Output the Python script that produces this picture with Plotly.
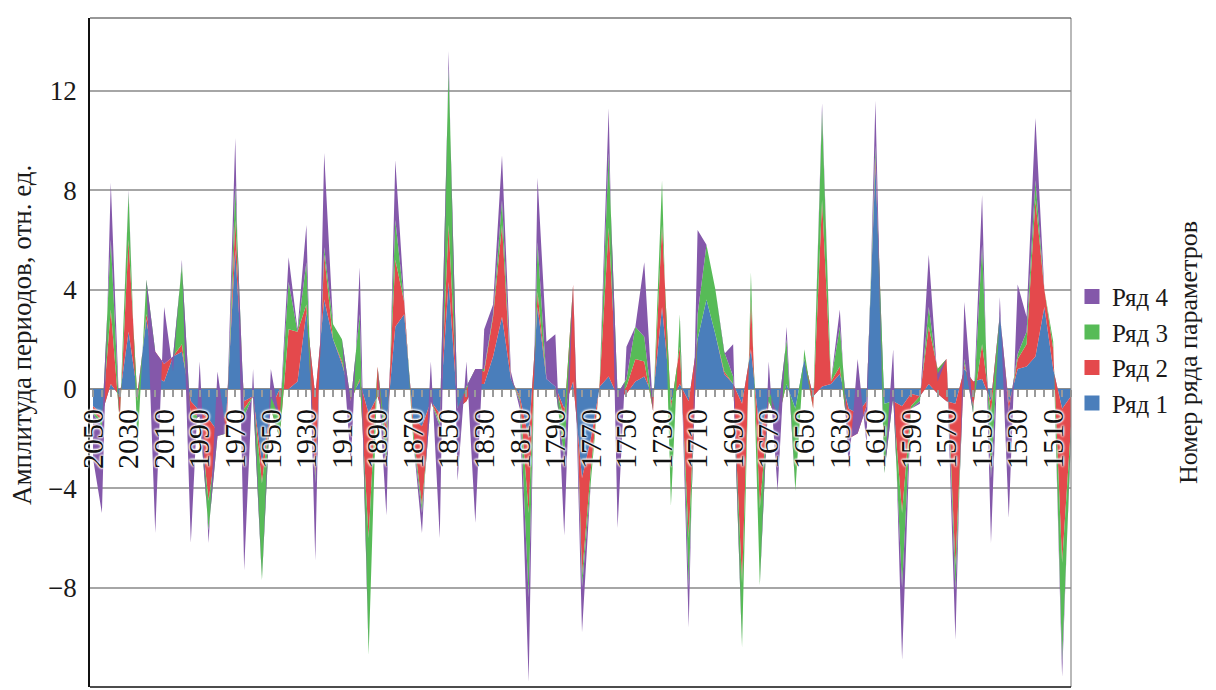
import plotly.graph_objects as go

years = list(range(2050, 1499, -5))

# Ряд 1 (blue)
s1 = [-0.7, -1.0, 0.2, -0.3, 2.3, -0.2, 2.8, 0.5, 0.3, 1.3,
      1.5, -0.5, -0.9, -1.2, -1.7, -1.0, 5.6, -0.5, -0.3, -3.0,
      -0.8, 0, 0, 0.3, 3.1, -0.3, 3.6, 2.0, 1.0, -0.3,
      0.3, -1.0, -0.3, -1.5, 2.5, 3.0, -1.2, -1.5, -0.5, -1.0,
      4.3, -0.8, -0.5, 0.2, 0.2, 1.3, 2.9, 0.4, -0.3, -2.0,
      3.3, 0.4, 0.1, -0.8, 0.3, -3.6, -2.0, 0.1, 0.5, -0.3,
      -0.2, 0.3, 0.5, -0.3, 3.3, -0.5, 0.2, -0.5, 2.0, 3.6,
      2.2, 0.6, 0.2, -0.6, 1.6, -1.8, -0.5, -1.0, 0.2, -0.8,
      1.2, -0.3, 0.1, 0.2, 0.6, -0.8, -1.0, -0.5, 9.0, -0.6,
      -0.5, -0.7, -0.2, -0.3, 0.2, -0.2, -0.5, -0.6, 0.8, 0.3,
      0.4, -0.5, 3.0, -0.6, 0.8, 0.9, 1.3, 3.3, 0.8, -0.8,
      -0.3]
# Ряд 2 (red)
s2 = [-0.2, -0.3, 3.0, -1.0, 3.7, -0.3, 0.2, 1.0, 0.7, 0,
      0.3, -0.5, -0.2, -3.3, -0.2, -0.6, 1.2, -0.3, 0, -0.8,
      0, -2.0, 2.4, 2.0, 0.3, -3.2, 1.8, 0, 0.1, -0.2,
      0.1, -5.0, 1.2, -0.7, 2.7, 0.5, -0.5, -3.2, 0, -0.3,
      2.3, 0, 0.5, 0.6, 0.5, 1.6, 3.7, 0, -0.1, -3.0,
      0.6, 0, 0, -0.4, 3.9, -3.9, -1.2, 0.2, 6.0, -0.2,
      0.3, 0.9, 0.6, -0.6, 3.3, -0.3, 1.5, -5.5, 0, 0,
      0, 0.1, 0, -7.2, 2.0, -3.0, 0, -0.3, 0, 0,
      0, -0.5, 7.5, 0.1, 0.3, -1.2, -0.8, -0.2, 0.3, 0,
      0, -4.3, -0.5, 0, 2.3, 1.0, 1.7, -6.5, 0.2, -1.0,
      1.4, -0.5, 0, -0.3, 0.4, 0.9, 6.3, 0.7, 0.8, -6.2,
      -1.2]
# Ряд 3 (green)
s3 = [-0.1, -0.2, 2.8, 0, 1.9, -1.8, 1.4, 0, 0, 0,
      3.2, -0.3, 0, -1.2, 0, -0.2, 1.4, -0.3, 0, -3.9,
      0.5, 0.8, 1.9, 0, 1.7, -0.3, 0.3, 0.6, 0.9, 0,
      2.6, -4.7, 0, -0.9, 1.6, 0, -0.3, -0.3, 0, -0.2,
      6.3, 0, 0.1, 0, 0.1, 0.1, 1.0, 0, -0.1, -3.4,
      2.0, 0, 0, -1.6, 0, -0.5, -0.5, 0.1, 3.0, 0.3,
      0.3, 1.3, 1.0, 0, 1.8, -3.9, 1.3, -2.0, 1.0, 2.2,
      1.8, 0.8, 0.3, -2.6, 1.1, -3.1, 0.5, 0.2, 1.8, -3.3,
      0.4, 0, 3.6, 0, 1.6, 0, 0, 0, 0.5, -2.8,
      0.2, -3.0, -0.1, -0.2, 0.8, -0.2, 0, -1.0, 0.2, -0.3,
      4.0, -2.6, 0, 0, 0.2, 0.5, 0.8, 0, 0.3, -4.0,
      -0.5]
# Ряд 4 (purple)
s4 = [-1.8, -3.5, 2.3, 0, 0.1, 0, 0, -7.3, 2.3, -0.6,
      0.2, -4.9, 2.2, -0.5, 2.6, 0, 1.9, -6.2, 1.1, 0,
      1.1, 0, 1.0, 0.1, 1.5, -3.1, 3.8, 0, 0, -2.5,
      1.9, 0, 0, -2.0, 2.4, 0.2, 0, -0.8, 1.6, -4.5,
      0.7, -2.9, 1.0, -6.2, 1.6, 0.4, 1.8, 0.3, -0.3, -3.4,
      2.6, 1.5, 2.1, -3.1, 0, -1.8, 0, 0, 1.8, -5.4,
      1.3, 0, 3.0, 0, 0, 0, 0, -1.6, 3.4, 0,
      0, -0.1, 1.3, 0, 0, 0, 1.1, -3.0, 0.5, 0,
      0, 0, 0.3, 0, 0.7, -1.2, 3.0, -1.5, 1.8, 0,
      1.9, -2.9, 0, -0.1, 2.1, -0.3, 0, -2.0, 2.3, 0,
      2.0, -2.6, 0.7, -4.3, 2.8, 0.6, 2.5, 0, 0, -0.6,
      0.5]

names = ["Ряд 1", "Ряд 2", "Ряд 3", "Ряд 4"]
colors = ["#4A7EBB", "#E4494C", "#57BB57", "#8458AA"]
series = [s1, s2, s3, s4]

label_years = [2050, 2030, 2010, 1990, 1970, 1950, 1930, 1910, 1890, 1870, 1850,
               1830, 1810, 1790, 1770, 1750, 1730, 1710, 1690, 1670, 1650, 1630,
               1610, 1590, 1570, 1550, 1530, 1510]

YMIN, YMAX = -12, 14.93
XR = [2051.7, 1500]
FONT = "Liberation Serif"

fig = go.Figure()
for name, col, s in zip(names, colors, series):
    fig.add_trace(go.Scatter(
        x=years, y=s, name=name, stackgroup="one", mode="lines",
        line=dict(width=0, color=col), fillcolor=col, showlegend=False,
        hoverinfo="x+y+name"))

# legend entries (square swatches), top-to-bottom Ряд 4 .. Ряд 1
for name, col in reversed(list(zip(names, colors))):
    fig.add_trace(go.Scatter(
        x=[None], y=[None], mode="markers", name=name, legendgroup=name,
        marker=dict(symbol="square", size=15, color=col), showlegend=True))

zero_pos = (0 - YMIN) / (YMAX - YMIN)
halo = ("0px 0px 2px white, 0px 0px 2px white, 0px 0px 2px white, "
        "0px 0px 3px white, 0px 0px 3px white")

fig.update_layout(
    width=1216, height=690,
    margin=dict(l=82, r=153, t=10, b=11),
    paper_bgcolor="white", plot_bgcolor="white",
    font=dict(family=FONT, size=25, color="#1a1a1a"),
    xaxis=dict(range=XR, autorange=False, anchor="free", position=zero_pos,
               tickmode="array", tickvals=label_years,
               ticktext=[str(v) for v in label_years],
               ticks="outside", ticklen=7, tickwidth=1.5, tickcolor="#9a9a9a",
               tickangle=-90, showgrid=False, zeroline=False, showline=False,
               tickfont=dict(family=FONT, size=30, color="#111111", shadow=halo),
               minor=dict(tickmode="linear", tick0=2050, dtick=5, ticks="outside",
                          ticklen=7, tickwidth=1.5, tickcolor="#9a9a9a")),
    yaxis=dict(range=[YMIN, YMAX], autorange=False,
               tickvals=[-12, -8, -4, 0, 4, 8, 12], ticks="",
               ticklabelstandoff=6,
               showgrid=True, gridcolor="#a6a6a6", gridwidth=1.5,
               zeroline=True, zerolinecolor="#8c8c8c", zerolinewidth=2,
               showline=True, linecolor="#111111", linewidth=1.5, mirror=False,
               tickfont=dict(family=FONT, size=27, color="#1a1a1a")),
    legend=dict(x=1.001, xanchor="left", y=0.504, yanchor="middle",
                font=dict(family=FONT, size=25, color="#1a1a1a"),
                tracegroupgap=4.5, traceorder="normal", bgcolor="rgba(0,0,0,0)"),
    shapes=[
        dict(type="line", xref="paper", yref="paper", x0=1, x1=1, y0=0, y1=1,
             line=dict(color="#8a8a8a", width=1.2)),
        dict(type="line", xref="paper", yref="paper", x0=0, x1=1, y0=1, y1=1,
             line=dict(color="#333333", width=1.2)),
        dict(type="line", xref="paper", yref="paper", x0=0, x1=1, y0=0, y1=0,
             line=dict(color="#111111", width=1.5)),
    ],
    annotations=[
        dict(text="Амплитуда периодов, отн. ед.", xref="paper", yref="paper",
             x=(14 - 82) / 981, y=(679 - 327) / 669, xanchor="center", yanchor="middle",
             textangle=-90, showarrow=False,
             font=dict(family=FONT, size=27, color="#1a1a1a")),
        dict(text="Номер ряда параметров", xref="paper", yref="paper",
             x=(1180 - 82) / 981, y=(679 - 345) / 669, xanchor="center", yanchor="middle",
             textangle=-90, showarrow=False,
             font=dict(family=FONT, size=26, color="#1a1a1a")),
    ],
)

fig.write_html("out.html")
